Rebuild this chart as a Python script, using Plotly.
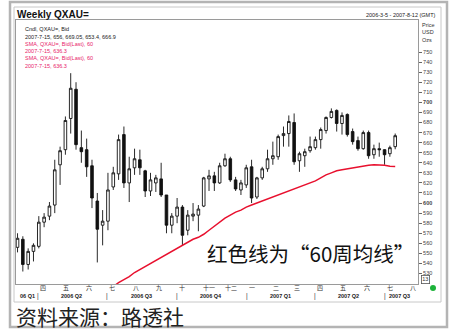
import pandas as pd
import plotly.graph_objects as go

# ---------------- data ----------------
dates = pd.date_range("2006-03-05", periods=72, freq="7D")
opens = [556, 564, 539, 552, 557, 581, 587, 598, 638, 653, 684, 713, 655, 653, 637, 602, 578, 582,
         616, 629, 668, 620, 635, 643, 632, 612, 620, 624, 608, 578, 587, 596, 573, 587, 588, 597,
         624, 627, 620, 637, 644, 623, 613, 618, 636, 606, 625, 634, 644, 646, 667, 669, 680, 642,
         647, 652, 655, 663, 672, 685, 692, 679, 688, 671, 662, 654, 670, 648, 654, 653, 649, 656]
highs = [570, 567, 555, 560, 587, 590, 601, 643, 656, 686, 729, 720, 672, 664, 643, 610, 593, 630,
         636, 668, 676, 646, 654, 653, 633, 630, 628, 640, 608, 590, 605, 598, 593, 600, 598, 626,
         633, 631, 640, 649, 646, 626, 623, 638, 643, 626, 636, 653, 661, 668, 676, 687, 689, 651,
         654, 666, 666, 675, 686, 694, 693, 690, 689, 674, 666, 672, 672, 658, 660, 653.4, 657, 669.05]
lows = [551, 532, 534, 542, 555, 576, 583, 590, 618, 648, 669, 653, 640, 626, 595, 541, 558, 573,
        613, 623, 615, 601, 628, 628, 606, 607, 611, 606, 570, 570, 580, 558, 568, 582, 572, 596,
        612, 612, 619, 636, 621, 612, 608, 615, 600, 604, 623, 631, 638, 643, 656, 656, 638, 631,
        636, 650, 653, 654, 669, 684, 671, 668, 666, 658, 652, 653, 644, 644, 646, 638, 646, 653.4]
closes = [565, 539, 552, 558, 581, 586, 597, 633, 652, 682, 714, 658, 651, 636, 605, 574, 582, 613,
          630, 663, 620, 634, 644, 635, 612, 623, 625, 608, 578, 587, 596, 568, 588, 589, 594, 625,
          627, 620, 637, 644, 623, 614, 620, 635, 605, 625, 634, 644, 647, 666, 669, 681, 641, 649,
          651, 656, 663, 673, 685, 691, 679, 687, 668, 661, 654, 670, 647, 654, 653, 648, 655, 666.9]

# 60-week SMA (visible from the 17th week on)
sma_start = 16
sma = [509, 513, 517, 521, 524, 527, 531, 534, 537, 540, 543, 546, 549, 552, 555, 558, 561, 564,
       566, 569, 573, 577, 581, 585, 588, 591, 593, 596, 598, 600, 602, 604, 606, 608, 610, 612,
       614, 616, 618, 620, 622, 625, 628, 630, 632, 633, 634, 635, 636, 637, 637.5, 638, 638,
       637.5, 636.5, 636.3]

y_ticks = list(range(530, 760, 10))
month_dates = ["2006-03-01", "2006-04-01", "2006-05-01", "2006-06-01", "2006-07-01", "2006-08-01",
               "2006-09-01", "2006-10-01", "2006-11-01", "2006-12-01", "2007-01-01", "2007-02-01",
               "2007-03-01", "2007-04-01", "2007-05-01", "2007-06-01", "2007-07-01", "2007-08-01"]
month_labels = ["三", "四", "五", "六", "七", "八", "九", "十", "十一", "十二", "一", "二",
                "三", "四", "五", "六", "七", "八"]
quarter_sep_dates = ["2006-04-01", "2006-07-01", "2006-10-01", "2007-01-01", "2007-04-01", "2007-07-01"]
quarter_labels = ["06 Q1", "2006 Q2", "2006 Q3", "2006 Q4", "2007 Q1", "2007 Q2", "2007 Q3"]
quarter_label_dates = ["2006-03-30", "2006-05-15", "2006-08-15", "2006-11-15", "2007-02-14",
                       "2007-05-15", "2007-07-04"]
quarter_anchors = ["right", "center", "center", "center", "center", "center", "left"]

legend_lines = ["Cndl, QXAU=, Bid",
                "2007-7-15, 656, 669.05, 653.4, 666.9",
                "SMA, QXAU=, Bid(Last), 60",
                "2007-7-15, 636.3",
                "SMA, QXAU=, Bid(Last), 60",
                "2007-7-15, 636.3"]
legend_colors = ["#222222", "#222222", "#e8246a", "#e8246a", "#e8246a", "#e8246a"]

# ---------------- layout geometry ----------------
W, H = 450, 330
ML, MR, MT, MB = 16, 32, 20, 46
PW, PH = W - ML - MR, H - MT - MB


def px(x):
    return (x - ML) / PW


def py(y):
    return (H - MB - y) / PH


LAT = "Liberation Sans, Arial, sans-serif"
CJK = "Noto Sans CJK SC, sans-serif"
RED = "#e8102e"

fig = go.Figure()
fig.add_trace(go.Candlestick(
    x=dates, open=opens, high=highs, low=lows, close=closes,
    increasing=dict(line=dict(color="#111111", width=0.9), fillcolor="white"),
    decreasing=dict(line=dict(color="#111111", width=0.9), fillcolor="#111111"),
    whiskerwidth=0, showlegend=False, hoverinfo="skip",
))
fig.add_trace(go.Scatter(
    x=dates[sma_start:], y=sma, mode="lines",
    line=dict(color=RED, width=1.5), showlegend=False, hoverinfo="skip",
))
# last-value markers on the price axis
fig.add_trace(go.Scatter(
    x=[pd.Timestamp("2007-08-16")] * 2, y=[closes[-1], sma[-1]], mode="markers",
    marker=dict(symbol="cross-thin", size=5, color=["#111111", RED],
                line=dict(width=1.6, color=["#111111", RED])),
    cliponaxis=False, showlegend=False, hoverinfo="skip",
))

fig.update_layout(
    width=W, height=H, margin=dict(l=ML, r=MR, t=MT, b=MB),
    paper_bgcolor="white", plot_bgcolor="white",
    font=dict(family=LAT, size=6, color="#333333"),
    xaxis=dict(type="date", range=["2006-03-03", "2007-08-14"], rangeslider=dict(visible=False),
               showgrid=False, showticklabels=False, ticks="", zeroline=False,
               showline=True, linecolor="#9a9a9a", linewidth=1, mirror=True),
    yaxis=dict(range=[519.6, 781.8], side="right", tickvals=y_ticks,
               ticktext=[f"<b>{v}</b>" if v % 100 == 0 else str(v) for v in y_ticks],
               tickfont=dict(size=5.5, color="#444444", family=LAT),
               ticks="outside", ticklen=3, tickcolor="#666666", tickwidth=0.8,
               showgrid=False, zeroline=False,
               showline=True, linecolor="#9a9a9a", linewidth=1, mirror=True),
)

shapes = [
    dict(type="rect", xref="paper", yref="paper", x0=px(10), x1=px(447), y0=py(327), y1=py(2),
         line=dict(color="#b4b4b4", width=2.5), layer="below"),
    dict(type="rect", xref="paper", yref="paper", x0=px(14), x1=px(441), y0=py(302), y1=py(7),
         line=dict(color="#c8c8c8", width=1), layer="below"),
    dict(type="circle", xref="paper", yref="paper", x0=px(430), x1=px(436), y0=py(291), y1=py(285),
         fillcolor="#1db33a", line=dict(color="#1db33a", width=0)),
]
fig.update_layout(shapes=shapes)

ann = []
ann.append(dict(text="<b>Weekly QXAU=</b>", x=px(15), y=py(14), xref="paper", yref="paper",
                xanchor="left", yanchor="middle", showarrow=False,
                font=dict(size=10, family=LAT, color="#111111")))
ann.append(dict(text="2006-3-5 - 2007-8-12 (GMT)", x=px(438), y=py(15), xref="paper", yref="paper",
                xanchor="right", yanchor="middle", showarrow=False,
                font=dict(size=5.5, family=LAT, color="#222222")))
for i, (t, c) in enumerate(zip(legend_lines, legend_colors)):
    ann.append(dict(text=t, x=px(23), y=py(29.3 + 7.25 * i), xref="paper", yref="paper",
                    xanchor="left", yanchor="middle", showarrow=False,
                    font=dict(size=5.5, family=LAT, color=c)))
for i, t in enumerate(["Price", "USD", "Ozs"]):
    ann.append(dict(text=t, x=px(420), y=py(24.5 + 7.8 * i), xref="paper", yref="paper",
                    xanchor="left", yanchor="middle", showarrow=False,
                    font=dict(size=5.5, family=LAT, color="#333333")))
ann.append(dict(text="13", x=px(426), y=py(279), xref="paper", yref="paper",
                xanchor="center", yanchor="middle", showarrow=False, bordercolor="#555555",
                borderwidth=0.8, borderpad=0.5, font=dict(size=5.5, family=LAT, color="#333333")))
for d, t in zip(month_dates, month_labels):
    ann.append(dict(text=t, x=d, y=py(287.5), xref="x", yref="paper", xanchor="left",
                    yanchor="middle", showarrow=False, font=dict(size=6, family=CJK, color="#333333")))
for d in quarter_sep_dates:
    ann.append(dict(text="|", x=d, y=py(296), xref="x", yref="paper", xanchor="center",
                    yanchor="middle", showarrow=False, font=dict(size=6.5, family=LAT, color="#333333")))
for d, t, a in zip(quarter_label_dates, quarter_labels, quarter_anchors):
    ann.append(dict(text=f"<b>{t}</b>", x=d, y=py(296), xref="x", yref="paper", xanchor=a,
                    yanchor="middle", showarrow=False, font=dict(size=5.5, family=LAT, color="#222222")))
ann.append(dict(text="红色线为“60周均线”", x=px(205), y=py(253), xref="paper", yref="paper",
                xanchor="left", yanchor="middle", showarrow=False,
                font=dict(size=20.5, family=CJK, color="#111111")))
ann.append(dict(text="资料来源：路透社", x=px(14), y=py(316), xref="paper", yref="paper",
                xanchor="left", yanchor="middle", showarrow=False,
                font=dict(size=21, family=CJK, color="#222222")))
fig.update_layout(annotations=ann)

fig.write_html("out.html")
